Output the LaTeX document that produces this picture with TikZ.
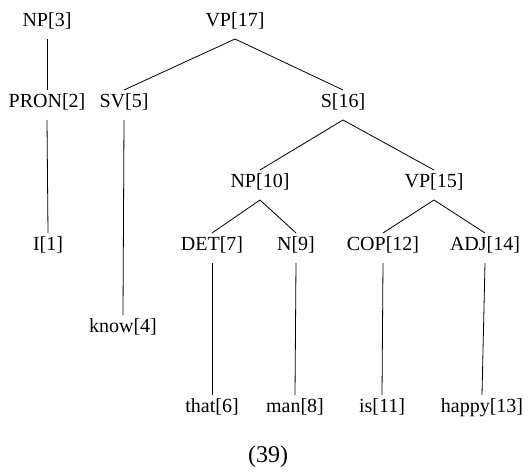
\documentclass[tikz,border=0pt]{standalone}
\usepackage{fontspec}
\setmainfont{Liberation Serif}
\begin{document}
\begin{tikzpicture}[x=1pt,y=-1pt,
  cat/.style={font=\fontsize{20}{22}\selectfont, inner sep=0pt, outer sep=0pt,
    minimum height=30pt, text height=0.7em, text depth=0.2em},
  branch/.style={draw=black, line width=0.8pt}]
\useasboundingbox (0,0) rectangle (530,476);
% nodes of the tree
\node[cat] (np3)   at (47,24)   {NP[3]};
\node[cat] (vp17)  at (235,24)  {VP[17]};
\node[cat] (pron2) at (47,105)  {PRON[2]};
\node[cat] (sv5)   at (124,105) {SV[5]};
\node[cat] (s16)   at (343,105) {S[16]};
\node[cat] (np10)  at (260,185) {NP[10]};
\node[cat] (vp15)  at (434,185) {VP[15]};
\node[cat] (i1)    at (48,248)  {I[1]};
\node[cat] (det7)  at (212,248) {DET[7]};
\node[cat] (n9)    at (296,248) {N[9]};
\node[cat] (cop12) at (383,248) {COP[12]};
\node[cat] (adj14) at (485,248) {ADJ[14]};
\node[cat] (know4) at (123,330) {know[4]};
\node[cat] (that6) at (212,410) {that[6]};
\node[cat] (man8)  at (295,410) {man[8]};
\node[cat] (is11)  at (382,410) {is[11]};
\node[cat] (happy13) at (482,410) {happy[13]};
\node[cat, font=\fontsize{24}{26}\selectfont] (num) at (268,460) {(39)};
% branches
\draw[branch] (np3.south) -- (pron2.north);
\draw[branch] (pron2.south) -- (i1.north);
\draw[branch] (vp17.south) -- (sv5.north);
\draw[branch] (vp17.south) -- (s16.north);
\draw[branch] (sv5.south) -- (know4.north);
\draw[branch] (s16.south) -- (np10.north);
\draw[branch] (s16.south) -- (vp15.north);
\draw[branch] (np10.south) -- (det7.north);
\draw[branch] (np10.south) -- (n9.north);
\draw[branch] (vp15.south) -- (cop12.north);
\draw[branch] (vp15.south) -- (adj14.north);
\draw[branch] (det7.south) -- (that6.north);
\draw[branch] (n9.south) -- (man8.north);
\draw[branch] (cop12.south) -- (is11.north);
\draw[branch] (adj14.south) -- (happy13.north);
\end{tikzpicture}
\end{document}
